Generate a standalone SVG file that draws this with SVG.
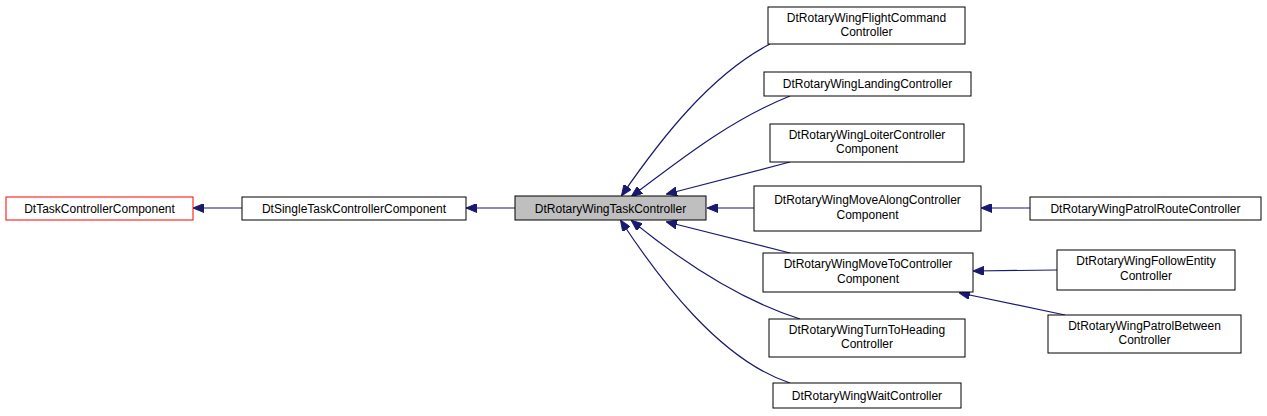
<svg xmlns="http://www.w3.org/2000/svg" width="1267" height="416" viewBox="0 0 1267 416">
<style>
.n rect{fill:#fff;stroke:#000;stroke-width:1}
.n text{font-family:"Liberation Sans",Arial,sans-serif;font-size:12px;text-anchor:middle;fill:#000}
#edges path{fill:none;stroke:#191970;stroke-width:1.2}
</style>
<defs>
<marker id="a" markerWidth="11" markerHeight="9" refX="10" refY="4.5" orient="auto" markerUnits="userSpaceOnUse">
<path d="M0,0 L11,4.5 L0,9 Z" fill="#191970" stroke="#191970"/>
</marker>
</defs>
<rect width="1267" height="416" fill="#fff"/>
<g id="edges">
<path d="M242,208 L194,208" marker-end="url(#a)"/>
<path d="M515,208 L467,208" marker-end="url(#a)"/>
<path d="M770,44 C710,75 660,140 622,195" marker-end="url(#a)"/>
<path d="M790,96 C730,120 680,160 632,196" marker-end="url(#a)"/>
<path d="M790,162 L667,194" marker-end="url(#a)"/>
<path d="M754,208 L708,208" marker-end="url(#a)"/>
<path d="M790,253 L667,222" marker-end="url(#a)"/>
<path d="M800,319 C740,300 680,260 632,221" marker-end="url(#a)"/>
<path d="M790,383 C720,360 660,280 621,221" marker-end="url(#a)"/>
<path d="M1030,208 L982,208" marker-end="url(#a)"/>
<path d="M1057,270 L974,271" marker-end="url(#a)"/>
<path d="M1065,315 L960,293" marker-end="url(#a)"/>
</g>
<g id="n1" class="n"><rect x="6" y="197" width="187" height="23" style="stroke:#f00"/><text x="99.5" y="212.5">DtTaskControllerComponent</text></g>
<g id="n2" class="n"><rect x="242" y="197" width="224" height="23"/><text x="354" y="212.5">DtSingleTaskControllerComponent</text></g>
<g id="n3" class="n"><rect x="515" y="196" width="191" height="24" style="fill:#bfbfbf"/><text x="610.5" y="212.5">DtRotaryWingTaskController</text></g>
<g id="n4" class="n"><rect x="768" y="7" width="197" height="37"/><text x="866.5" y="21.5">DtRotaryWingFlightCommand</text><text x="866.5" y="36">Controller</text></g>
<g id="n5" class="n"><rect x="764" y="72" width="207" height="24"/><text x="867.5" y="88">DtRotaryWingLandingController</text></g>
<g id="n6" class="n"><rect x="770" y="124" width="194" height="38"/><text x="867" y="138.5">DtRotaryWingLoiterController</text><text x="867" y="153">Component</text></g>
<g id="n7" class="n"><rect x="754" y="186" width="227" height="45"/><text x="867.5" y="204">DtRotaryWingMoveAlongController</text><text x="867.5" y="218.5">Component</text></g>
<g id="n8" class="n"><rect x="763" y="253" width="210" height="39"/><text x="868" y="268">DtRotaryWingMoveToController</text><text x="868" y="283">Component</text></g>
<g id="n9" class="n"><rect x="769" y="319" width="196" height="38"/><text x="867" y="333.5">DtRotaryWingTurnToHeading</text><text x="867" y="348">Controller</text></g>
<g id="n10" class="n"><rect x="773" y="383" width="188" height="25"/><text x="867" y="399.5">DtRotaryWingWaitController</text></g>
<g id="n11" class="n"><rect x="1030" y="197" width="231" height="23"/><text x="1145.5" y="212.5">DtRotaryWingPatrolRouteController</text></g>
<g id="n12" class="n"><rect x="1057" y="250" width="178" height="40"/><text x="1146" y="265">DtRotaryWingFollowEntity</text><text x="1146" y="280">Controller</text></g>
<g id="n13" class="n"><rect x="1048" y="315" width="193" height="38"/><text x="1144.5" y="329.5">DtRotaryWingPatrolBetween</text><text x="1144.5" y="344">Controller</text></g>
</svg>
